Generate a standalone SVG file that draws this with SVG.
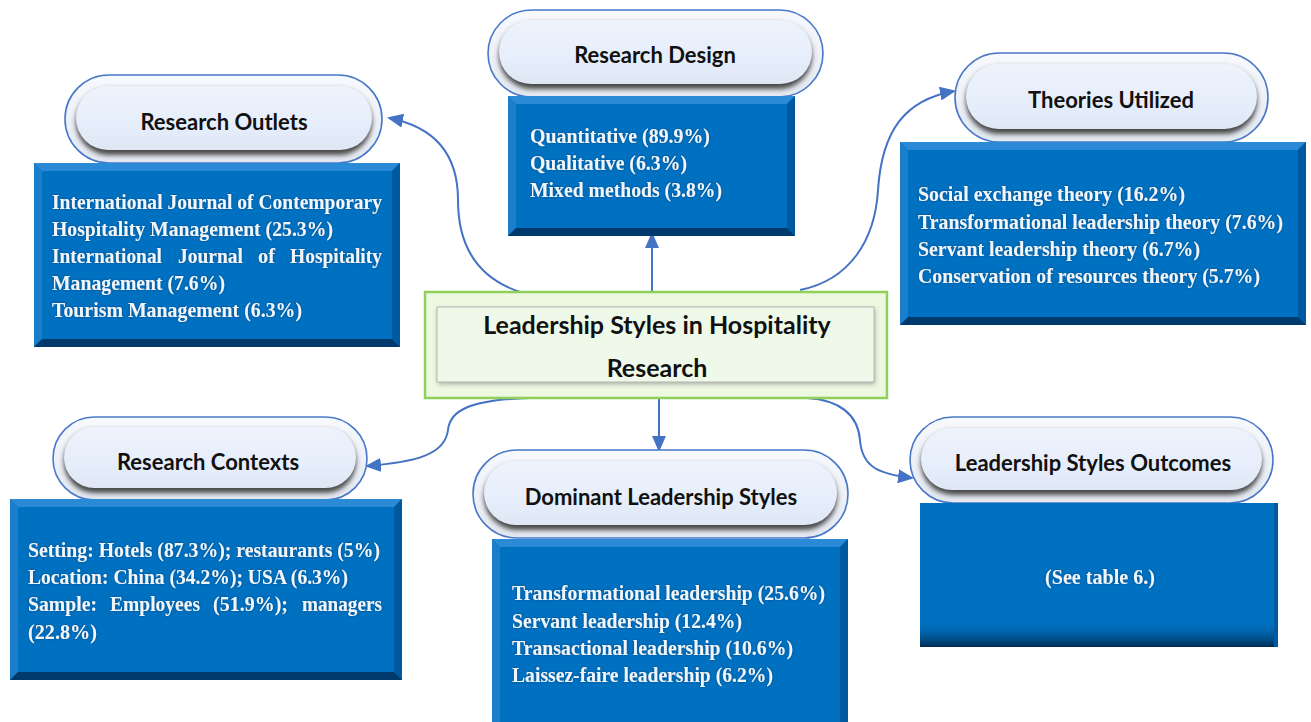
<svg xmlns="http://www.w3.org/2000/svg" width="1311" height="722" viewBox="0 0 1311 722">
  <defs>
    <style>
      .pill-outer { fill: url(#pillOuterGrad); stroke: #4a78c8; stroke-width: 1.6; }
      .pill-shadow { fill: #4a4a4a; filter: url(#soft); }
      .pill-inner { fill: url(#pillInnerGrad); }
      .pill-label { font-family: Lato, "Open Sans", "Liberation Sans", sans-serif; font-weight: bold; font-size: 22px; fill: #111; text-anchor: middle; }
      .box { fill: #0070c0; }
      .bv-top { fill: #2a8ad6; }
      .bv-left { fill: #1a7ecb; }
      .bv-right { fill: #00599e; }
      .bv-bottom { fill: #003a6c; }
      .body { font-family: "Liberation Serif", "Times New Roman", serif; font-weight: bold; font-size: 21px; fill: #f2f6fb; }
      .link { fill: none; stroke: #4472c4; stroke-width: 2; }
      .center-label { font-family: Lato, "Open Sans", "Liberation Sans", sans-serif; font-weight: bold; font-size: 25px; fill: #111; text-anchor: middle; }
    </style>
    <linearGradient id="pillOuterGrad" x1="0" y1="0" x2="0" y2="1">
      <stop offset="0" stop-color="#f7f9fd"/>
      <stop offset="1" stop-color="#e4e9f2"/>
    </linearGradient>
    <linearGradient id="pillInnerGrad" x1="0" y1="0" x2="0" y2="1">
      <stop offset="0" stop-color="#eef3fc"/>
      <stop offset="0.6" stop-color="#e6eefb"/>
      <stop offset="1" stop-color="#dfe7f5"/>
    </linearGradient>
    <linearGradient id="outcomeBottom" x1="0" y1="0" x2="0" y2="1">
      <stop offset="0" stop-color="#0070c0" stop-opacity="0"/>
      <stop offset="1" stop-color="#002a50"/>
    </linearGradient>
    <filter id="soft" x="-10%" y="-30%" width="120%" height="160%">
      <feGaussianBlur stdDeviation="2.5"/>
    </filter>
    <filter id="glow" x="-5%" y="-20%" width="110%" height="140%">
      <feGaussianBlur in="SourceAlpha" stdDeviation="1.2" result="b"/>
      <feFlood flood-color="#0a2f5c" flood-opacity="0.6"/>
      <feComposite in2="b" operator="in" result="s"/>
      <feMerge><feMergeNode in="s"/><feMergeNode in="SourceGraphic"/></feMerge>
    </filter>
    <marker id="arrow" markerUnits="userSpaceOnUse" markerWidth="16" markerHeight="14" refX="14" refY="7" orient="auto">
      <path d="M0,0 L16,7 L0,14 Z" fill="#4472c4"/>
    </marker>
  </defs>

  <rect width="1311" height="722" fill="#ffffff"/>

  <!-- connectors from the central topic to each branch -->
  <g id="connectors">
    <path class="link" marker-end="url(#arrow)" d="M520,292 C472,276 458,240 458,200 C458,160 440,128 389,118"/>
    <path class="link" marker-end="url(#arrow)" d="M652,292 L652,234"/>
    <path class="link" marker-end="url(#arrow)" d="M800,290 C850,280 875,240 878,190 C882,130 905,100 954,91"/>
    <path class="link" marker-end="url(#arrow)" d="M530,398 C470,400 450,410 448,430 C445,455 415,462 367,466"/>
    <path class="link" marker-end="url(#arrow)" d="M659,398 L659,450"/>
    <path class="link" marker-end="url(#arrow)" d="M807,398 C840,400 858,415 860,440 C862,468 880,474 912,478"/>
  </g>

  <!-- central topic -->
  <g id="center">
    <rect x="425" y="292" width="462" height="106" fill="#ecf8e0" stroke="#8fcf5a" stroke-width="2.5"/>
    <rect x="438" y="309" width="437" height="75" fill="#777" filter="url(#soft)" opacity="0.6"/>
    <rect x="437" y="307" width="437" height="75" fill="#eff9e9" stroke="#b5b5b5" stroke-width="1"/>
    <text class="center-label" x="657" y="334">Leadership Styles in Hospitality</text>
    <text class="center-label" x="657" y="377">Research</text>
  </g>

  <!-- Research Outlets -->
  <g id="research-outlets">
    <rect class="pill-outer" x="65" y="75" width="317" height="88" rx="44"/>
    <rect class="pill-shadow" x="76" y="89" width="296" height="66" rx="33"/>
    <rect class="pill-inner" x="76" y="86" width="296" height="64" rx="32"/>
    <text class="pill-label" x="224" y="130">Research Outlets</text>
    <rect class="box" x="34" y="163" width="366" height="184"/>
    <polygon class="bv-top" points="34,163 400,163 392,171 42,171"/>
    <polygon class="bv-left" points="34,163 42,171 42,339 34,347"/>
    <polygon class="bv-right" points="400,163 400,347 392,339 392,171"/>
    <polygon class="bv-bottom" points="34,347 42,339 392,339 400,347"/>
    <g class="body" filter="url(#glow)">
      <text x="52" y="209" textLength="330" lengthAdjust="spacingAndGlyphs">International Journal of Contemporary</text>
      <text x="52" y="236" textLength="281" lengthAdjust="spacingAndGlyphs">Hospitality Management (25.3%)</text>
      <text x="52" y="263" textLength="110" lengthAdjust="spacingAndGlyphs">International</text>
      <text x="178" y="263" textLength="65" lengthAdjust="spacingAndGlyphs">Journal</text>
      <text x="258" y="263" textLength="17" lengthAdjust="spacingAndGlyphs">of</text>
      <text x="290" y="263" textLength="92" lengthAdjust="spacingAndGlyphs">Hospitality</text>
      <text x="52" y="290" textLength="173" lengthAdjust="spacingAndGlyphs">Management (7.6%)</text>
      <text x="52" y="317" textLength="250" lengthAdjust="spacingAndGlyphs">Tourism Management (6.3%)</text>
    </g>
  </g>

  <!-- Research Design -->
  <g id="research-design">
    <rect class="pill-outer" x="488" y="10" width="335" height="87" rx="43.5"/>
    <rect class="pill-shadow" x="499" y="23" width="313" height="66" rx="33"/>
    <rect class="pill-inner" x="499" y="20" width="313" height="64" rx="32"/>
    <text class="pill-label" x="655" y="63">Research Design</text>
    <rect class="box" x="508" y="96" width="287" height="140"/>
    <polygon class="bv-top" points="508,96 795,96 787,104 516,104"/>
    <polygon class="bv-left" points="508,96 516,104 516,228 508,236"/>
    <polygon class="bv-right" points="795,96 795,236 787,228 787,104"/>
    <polygon class="bv-bottom" points="508,236 516,228 787,228 795,236"/>
    <g class="body" filter="url(#glow)">
      <text x="530" y="143" textLength="180" lengthAdjust="spacingAndGlyphs">Quantitative (89.9%)</text>
      <text x="530" y="170" textLength="157" lengthAdjust="spacingAndGlyphs">Qualitative (6.3%)</text>
      <text x="530" y="197" textLength="192" lengthAdjust="spacingAndGlyphs">Mixed methods (3.8%)</text>
    </g>
  </g>

  <!-- Theories Utilized -->
  <g id="theories-utilized">
    <rect class="pill-outer" x="955" y="53" width="313" height="89" rx="44.5"/>
    <rect class="pill-shadow" x="966" y="67" width="291" height="67" rx="33"/>
    <rect class="pill-inner" x="966" y="64" width="291" height="65" rx="32.5"/>
    <text class="pill-label" x="1111" y="108">Theories Utilized</text>
    <rect class="box" x="900" y="142" width="406" height="183"/>
    <polygon class="bv-top" points="900,142 1306,142 1298,150 908,150"/>
    <polygon class="bv-left" points="900,142 908,150 908,317 900,325"/>
    <polygon class="bv-right" points="1306,142 1306,325 1298,317 1298,150"/>
    <polygon class="bv-bottom" points="900,325 908,317 1298,317 1306,325"/>
    <g class="body" filter="url(#glow)">
      <text x="918" y="201" textLength="267" lengthAdjust="spacingAndGlyphs">Social exchange theory (16.2%)</text>
      <text x="918" y="229" textLength="365" lengthAdjust="spacingAndGlyphs">Transformational leadership theory (7.6%)</text>
      <text x="918" y="256" textLength="282" lengthAdjust="spacingAndGlyphs">Servant leadership theory (6.7%)</text>
      <text x="918" y="283" textLength="342" lengthAdjust="spacingAndGlyphs">Conservation of resources theory (5.7%)</text>
    </g>
  </g>

  <!-- Research Contexts -->
  <g id="research-contexts">
    <rect class="pill-outer" x="53" y="417" width="314" height="83" rx="41.5"/>
    <rect class="pill-shadow" x="64" y="430" width="292" height="63" rx="31"/>
    <rect class="pill-inner" x="64" y="427" width="292" height="61" rx="30.5"/>
    <text class="pill-label" x="208" y="470">Research Contexts</text>
    <rect class="box" x="10" y="499" width="392" height="181"/>
    <polygon class="bv-top" points="10,499 402,499 394,507 18,507"/>
    <polygon class="bv-left" points="10,499 18,507 18,672 10,680"/>
    <polygon class="bv-right" points="402,499 402,680 394,672 394,507"/>
    <polygon class="bv-bottom" points="10,680 18,672 394,672 402,680"/>
    <g class="body" filter="url(#glow)">
      <text x="28" y="557" textLength="352" lengthAdjust="spacingAndGlyphs">Setting: Hotels (87.3%); restaurants (5%)</text>
      <text x="28" y="584" textLength="320" lengthAdjust="spacingAndGlyphs">Location: China (34.2%); USA (6.3%)</text>
      <text x="28" y="611" textLength="69" lengthAdjust="spacingAndGlyphs">Sample:</text>
      <text x="110" y="611" textLength="90" lengthAdjust="spacingAndGlyphs">Employees</text>
      <text x="213" y="611" textLength="75" lengthAdjust="spacingAndGlyphs">(51.9%);</text>
      <text x="302" y="611" textLength="80" lengthAdjust="spacingAndGlyphs">managers</text>
      <text x="28" y="639" textLength="69" lengthAdjust="spacingAndGlyphs">(22.8%)</text>
    </g>
  </g>

  <!-- Dominant Leadership Styles -->
  <g id="dominant-styles">
    <rect class="pill-outer" x="473" y="450" width="375" height="88" rx="44"/>
    <rect class="pill-shadow" x="484" y="464" width="353" height="66" rx="33"/>
    <rect class="pill-inner" x="484" y="461" width="353" height="64" rx="32"/>
    <text class="pill-label" x="661" y="505">Dominant Leadership Styles</text>
    <rect class="box" x="492" y="539" width="356" height="183"/>
    <polygon class="bv-top" points="492,539 848,539 840,547 500,547"/>
    <polygon class="bv-left" points="492,539 500,547 500,722 492,722"/>
    <polygon class="bv-right" points="848,539 848,722 840,722 840,547"/>
    <g class="body" filter="url(#glow)">
      <text x="512" y="600" textLength="313" lengthAdjust="spacingAndGlyphs">Transformational leadership (25.6%)</text>
      <text x="512" y="628" textLength="230" lengthAdjust="spacingAndGlyphs">Servant leadership (12.4%)</text>
      <text x="512" y="655" textLength="281" lengthAdjust="spacingAndGlyphs">Transactional leadership (10.6%)</text>
      <text x="512" y="682" textLength="261" lengthAdjust="spacingAndGlyphs">Laissez-faire leadership (6.2%)</text>
    </g>
  </g>

  <!-- Leadership Styles Outcomes -->
  <g id="styles-outcomes">
    <rect class="pill-outer" x="910" y="417" width="363" height="86" rx="43"/>
    <rect class="pill-shadow" x="921" y="431" width="341" height="64" rx="32"/>
    <rect class="pill-inner" x="921" y="428" width="341" height="62" rx="31"/>
    <text class="pill-label" x="1093" y="471">Leadership Styles Outcomes</text>
    <rect class="box" x="920" y="503" width="358" height="144"/>
    <rect x="920" y="620" width="358" height="27" fill="url(#outcomeBottom)"/>
    <rect x="1274" y="503" width="4" height="144" fill="#00599e"/>
    <g class="body" filter="url(#glow)">
      <text x="1045" y="584" textLength="110" lengthAdjust="spacingAndGlyphs">(See table 6.)</text>
    </g>
  </g>
</svg>
